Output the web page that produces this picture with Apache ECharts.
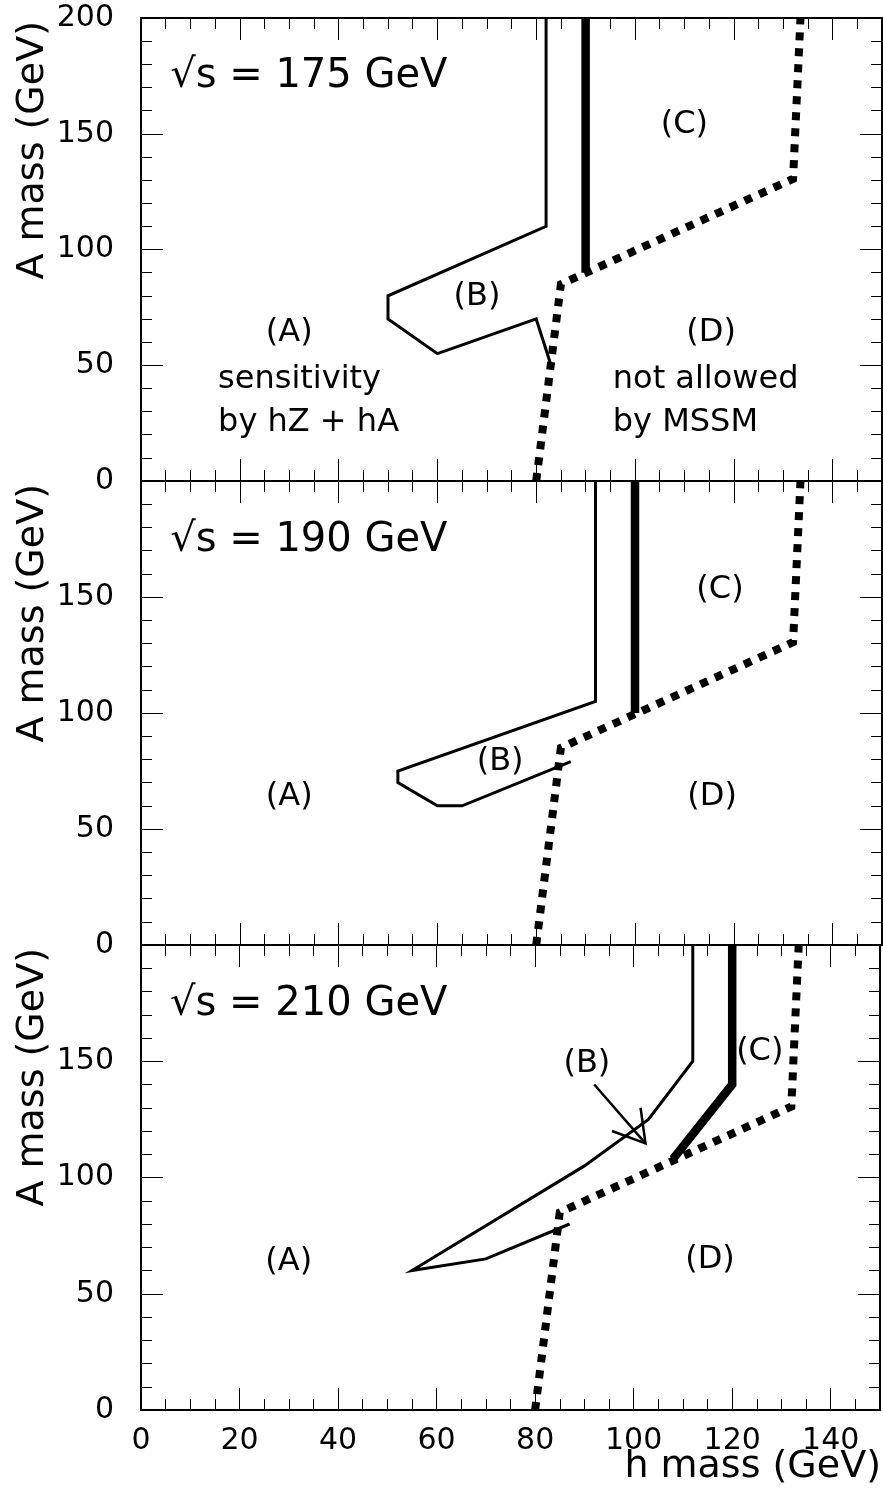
<!DOCTYPE html>
<html><head><meta charset="utf-8">
<script src="https://cdn.jsdelivr.net/npm/echarts@6/dist/echarts.min.js"></script>
<style>html,body{margin:0;padding:0;background:#fff;}#c{width:883px;height:1496px;}</style>
</head><body><div id="c"></div>
<script>
// ---------- data ----------
const energies = ['175', '190', '210'];
const xTickLabels = [0, 20, 40, 60, 80, 100, 120, 140];
const yTickLabels = [0, 50, 100, 150, 200];

// thin line: boundary of region (B) [h mass, A mass]
const thin175 = [[82,200],[82,110],[50,80],[50,70],[60,55],[80,70],[83,50]];
const thin190 = [[92,200],[92,105],[52,75],[52,70],[60,60],[65,60],[87,79]];
const thin210 = [[112,200],[112,150],[103,125],[90,105],[55,60],[70,65],[87,80]];
// thick line: limit
const thick175 = [[90,200],[90,90]];
const thick190 = [[100,200],[100,100]];
const thick210 = [[120,200],[120,140],[108,108]];
// dotted line: MSSM bound
const mssm175 = [[80,0],[85,85],[132,130.5],[133.5,200]];
const mssm190 = [[80,0],[85,85],[132,130.5],[133.5,200]];
const mssm210 = [[80,0],[85,85],[132,130.5],[133.5,200]];
// arrow in 210 GeV panel
const arrowShaft210 = [[92,140],[102.4,114.7]];
const arrowHead210 = [[101.4,130],[102.4,114.7],[95.6,120]];

// region labels [text, h mass, A mass]
const labels175 = [['(C)',110,154],['(B)',68,79.5],['(A)',30,64],['(D)',115.4,64]];
const labels190 = [['(C)',117.2,153],['(B)',72.7,79],['(A)',30,64],['(D)',115.6,64]];
const labels210 = [['(B)',90.5,149],['(C)',125.6,154],['(A)',30,64],['(D)',115.5,64.5]];
const notes175 = [['sensitivity',15.6,43.6],['by hZ + hA',15.6,25],['not allowed',95.5,43.6],['by MSSM',95.5,25]];

const thinAll = [thin175, thin190, thin210];
const thickAll = [thick175, thick190, thick210];
const mssmAll = [mssm175, mssm190, mssm210];
const labelsAll = [labels175, labels190, labels210];

// ---------- layout ----------
const FONT = '"DejaVu Sans", sans-serif';
const gridTops = [18, 481, 945];
const gridHeights = [463, 464, 465];
const LEFT = 141, WIDTH = 741;

const grids = [], xAxes = [], yAxes = [], series = [];
for (let i = 0; i < 3; i++) {
  grids.push({left: LEFT, width: WIDTH, top: gridTops[i], height: gridHeights[i], show: true,
    borderColor: '#000', borderWidth: 2, backgroundColor: 'transparent', z: 10});
  const xBase = {gridIndex: i, type: 'value', min: 0, max: 150,
    axisLine: {show: false, onZero: false}, splitLine: {show: false}};
  ['bottom', 'top'].forEach(pos => {
    xAxes.push(Object.assign({}, xBase, {position: pos, interval: 20,
      axisTick: {show: true, inside: true, length: 22, lineStyle: {color: '#000', width: 1}},
      axisLabel: {show: pos === 'bottom' && i === 2, margin: 16, fontSize: 30, fontFamily: FONT, color: '#000',
        formatter: v => xTickLabels.indexOf(v) >= 0 ? String(v) : ''}}));
    xAxes.push(Object.assign({}, xBase, {position: pos, interval: 5,
      axisTick: {show: true, inside: true, length: 11, lineStyle: {color: '#000', width: 1}},
      axisLabel: {show: false}}));
  });
  ['left', 'right'].forEach(pos => {
    yAxes.push({gridIndex: i, type: 'value', min: 0, max: 200, interval: 50, position: pos,
      axisLine: {show: false, onZero: false}, splitLine: {show: false},
      axisTick: {show: true, inside: true, length: 22, lineStyle: {color: '#000', width: 1}},
      minorTick: {show: true, splitNumber: 5, length: 11, lineStyle: {color: '#000', width: 1}},
      axisLabel: {show: pos === 'left', margin: 27, fontSize: 30, fontFamily: FONT, color: '#000',
        formatter: v => (yTickLabels.indexOf(v) >= 0 && (i === 0 || v !== 200)) ? String(v) : ''}});
  });
  const mk = (data, width, type) => ({type: 'line', xAxisIndex: i * 4, yAxisIndex: i * 2, data,
    symbol: 'none', showSymbol: false, animation: false, silent: true, clip: true,
    lineStyle: {color: '#000', width, type, cap: 'butt', join: 'miter'}});
  series.push(mk(thinAll[i], 3, 'solid'));
  series.push(mk(thickAll[i], 8.5, 'solid'));
  series.push(mk(mssmAll[i], 8, [8, 8]));
  if (i === 2) {
    series.push(mk(arrowShaft210, 2.5, 'solid'));
    series.push(mk(arrowHead210, 2.5, 'solid'));
  }
}

const chart = echarts.init(document.getElementById('c'), null, {renderer: 'canvas'});
chart.setOption({animation: false, backgroundColor: '#fff', grid: grids, xAxis: xAxes, yAxis: yAxes, series});

// ---------- text ----------
const graphic = [];
const txt = (text, x, y, size, align, extra) => Object.assign({type: 'text', x, y, silent: true,
  style: {text, x: 0, y: 0, font: size + 'px ' + FONT, fill: '#000', align: align || 'center', verticalAlign: 'middle'}}, extra || {});
for (let i = 0; i < 3; i++) {
  const p = chart.convertToPixel({gridIndex: i}, [5.9, 174.5]);
  graphic.push(txt('\u221As = ' + energies[i] + ' GeV', p[0], p[1], 40, 'left'));
  labelsAll[i].forEach(l => {
    const q = chart.convertToPixel({gridIndex: i}, [l[1], l[2]]);
    graphic.push(txt(l[0], q[0], q[1], 32, 'center'));
  });
  graphic.push(txt('A mass (GeV)', 33, gridTops[i] + 3, 38, 'right', {rotation: Math.PI / 2}));
}
notes175.forEach(l => {
  const q = chart.convertToPixel({gridIndex: 0}, [l[1], l[2]]);
  graphic.push(txt(l[0], q[0], q[1], 32, 'left'));
});
graphic.push(txt('h mass (GeV)', 881, 1467, 38, 'right'));
chart.setOption({graphic});
</script></body></html>
